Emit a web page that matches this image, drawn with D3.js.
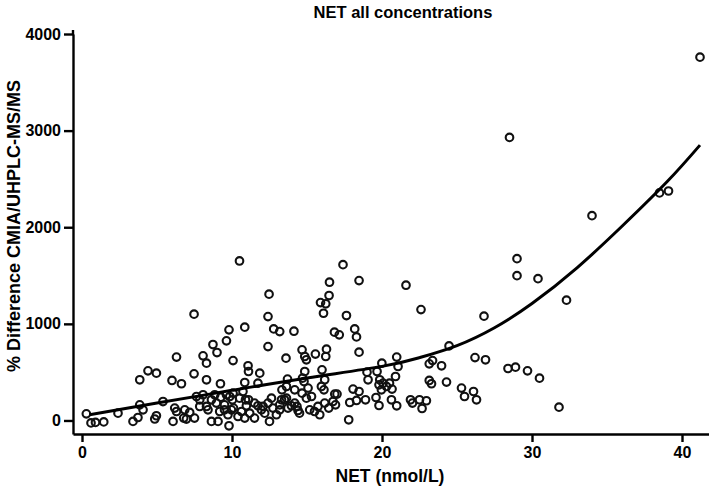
<!DOCTYPE html>
<html>
  <head>
    <meta charset="utf-8">
    <title>NET all concentrations</title>
    <style>
      body { margin: 0; background: #fff; }
      svg { display: block; }
      text { font-family: "Liberation Sans", Arial, sans-serif; font-weight: bold; fill: #000; }
      .axis path, .axis line { stroke: #000; stroke-width: 2.4; }
      .axis text { font-size: 16px; }
      .dot { fill: none; stroke: #111; stroke-width: 2.1; }
      .fit { fill: none; stroke: #000; stroke-width: 3; }
    </style>
  </head>
  <body>
    <svg id="chart" width="709" height="487"></svg>
    <script src="https://cdn.jsdelivr.net/npm/d3@7"></script>
    <script>
var netX = [
  0.29, 0.6, 0.9, 1.45, 2.4, 3.4, 3.73, 3.85, 4.07, 4.85, 4.96, 5.4, 3.85, 4.4, 4.96, 6.3, 6.0, 6.63, 7.47, 7.47,
  6.07, 6.18, 6.3, 6.85, 7.18, 6.96, 7.85, 7.63, 8.07, 8.4, 8.63, 8.85, 8.63, 9.07, 9.18, 9.5, 9.73, 9.96, 9.8, 9.85,
  10.07, 10.5, 10.73, 10.9, 10.4, 10.63, 10.96, 10.85, 8.3, 9.23, 10.85, 8.07, 8.3, 9.0, 10.07, 8.73, 9.63, 9.8, 10.85, 10.5,
  11.07, 11.1, 11.85, 11.73, 12.4, 12.4, 12.47, 12.78, 13.18, 14.13, 13.6, 13.7, 14.67, 14.85, 14.96, 15.56, 16.3, 16.25, 14.85, 14.8,
  16.0, 16.18, 13.33, 14.18, 13.63, 15.96, 16.13, 14.67, 15.3, 16.85, 11.1, 11.5, 12.07, 12.4, 12.63, 12.73, 12.96, 13.18, 13.5, 13.73,
  14.18, 14.4, 12.5, 11.5, 15.18, 15.5, 15.73, 16.18, 16.45, 16.73, 15.9, 16.25, 16.1, 16.47, 16.5, 17.4, 17.63, 16.83, 17.15, 11.73,
  11.96, 14.96, 15.07, 14.5, 18.47, 18.18, 18.3, 18.47, 21.6, 22.6, 20.98, 19.99, 21.07, 19.0, 19.67, 19.07, 20.9, 19.85, 19.8, 20.07,
  20.3, 20.5, 20.67, 19.96, 18.07, 18.47, 17.0, 18.3, 18.9, 17.85, 16.9, 19.6, 19.8, 20.63, 20.98, 21.9, 22.03, 17.78, 22.67, 22.96,
  22.5, 23.15, 23.37, 23.97, 24.47, 23.15, 23.3, 24.3, 25.3, 25.5, 26.1, 26.3, 26.2, 26.9, 26.8, 15.85, 13.63, 13.96, 13.18, 41.2,
  28.5, 38.5, 39.1, 34.0, 29.0, 29.0, 30.4, 32.3, 28.4, 28.9, 29.7, 30.5, 31.8, 6.78, 7.5, 7.85, 8.3, 8.96, 9.25, 9.5,
  9.63, 10.03, 10.1, 11.18, 12.18, 13.3, 14.33, 14.7
];
var pctDiff = [
  69, -25, -20, -15, 76, -10, 31, 162, 110, 15, 49, 196, 421, 514, 490, 656, 414, 380, 483, 1100,
  -10, 128, 93, 110, 83, 14, 145, 248, 266, 110, 214, 266, -10, -10, 93, 162, 59, 110, -55, 248,
  283, 231, 300, 214, 41, 93, 152, 25, 421, 380, 393, 669, 593, 703, 620, 786, 824, 938, 966, 1651,
  566, 507, 490, 386, 765, 1075, 1307, 948, 920, 924, 645, 428, 731, 662, 628, 687, 738, 662, 507, 403,
  524, 421, 317, 317, 352, 352, 317, 283, 248, 273, 214, 180, 145, 180, 231, 128, 59, 162, 214, 128,
  180, 103, -10, 25, 110, 93, 145, 180, 128, 196, 1220, 1207, 1110, 1293, 1431, 1613, 1086, 914, 886, 152,
  110, 231, 335, 76, 707, 948, 865, 1448, 1400, 1148, 656, 593, 559, 500, 507, 421, 455, 421, 369, 386,
  352, 386, 325, 317, 325, 300, 273, 207, 214, 186, 162, 238, 155, 214, 152, 214, 180, 7, 124, 204,
  214, 586, 620, 566, 772, 414, 380, 397, 335, 248, 300, 214, 651, 628, 1080, 59, 231, 152, 110, 3760,
  2930, 2355, 2375, 2120, 1675, 1499, 1468, 1245, 538, 552, 514, 438, 138, 25, 25, 214, 145, 180, 241, 110,
  266, 214, 128, 76, 76, 214, 145, 438
];

// fitted curve
var fitX = [0.5, 5, 10, 15, 20, 22.5, 25, 27.5, 30, 33, 36, 39, 41.2];
var fitY = [59, 180, 312, 440, 560, 650, 775, 960, 1210, 1580, 2010, 2470, 2850];

var xTicks = [0, 10, 20, 30, 40];
var yTicks = [0, 1000, 2000, 3000, 4000];

var svg = d3.select("#chart");

var x = d3.scaleLinear().domain([-0.6, 41.8]).range([73, 709]);
var y = d3.scaleLinear().domain([-140, 4000]).range([434, 34]);

svg.append("g")
    .attr("class", "axis")
    .attr("transform", "translate(0,434)")
    .call(d3.axisBottom(x).tickValues(xTicks).tickFormat(d3.format("d")).tickSize(8).tickSizeOuter(0).tickPadding(5));

svg.append("g")
    .attr("class", "axis")
    .attr("transform", "translate(73,0)")
    .call(d3.axisLeft(y).tickValues(yTicks).tickFormat(d3.format("d")).tickSize(9).tickSizeOuter(0).tickPadding(3));

// the y axis runs a little past the top tick
svg.append("line")
    .attr("x1", 73).attr("x2", 73)
    .attr("y1", 30).attr("y2", 35)
    .attr("stroke", "#000").attr("stroke-width", 2.4);

var pts = netX.map((d, i) => ({x: d, y: pctDiff[i]}));

svg.append("g").selectAll("circle")
    .data(pts)
    .enter().append("circle")
      .attr("class", "dot")
      .attr("cx", d => x(d.x))
      .attr("cy", d => y(d.y))
      .attr("r", 3.8);

var line = d3.line()
    .x(d => x(d[0]))
    .y(d => y(d[1]))
    .curve(d3.curveNatural);

svg.append("path")
    .attr("class", "fit")
    .attr("d", line(fitX.map((d, i) => [d, fitY[i]])));

svg.append("text")
    .attr("x", 403).attr("y", 18)
    .attr("text-anchor", "middle")
    .style("font-size", "16.5px")
    .text("NET all concentrations");

svg.append("text")
    .attr("x", 390).attr("y", 482)
    .attr("text-anchor", "middle")
    .style("font-size", "17.5px")
    .text("NET (nmol/L)");

svg.append("text")
    .attr("transform", "translate(20,226) rotate(-90)")
    .attr("text-anchor", "middle")
    .style("font-size", "18px")
    .text("% Difference CMIA/UHPLC-MS/MS");
    </script>
  </body>
</html>
